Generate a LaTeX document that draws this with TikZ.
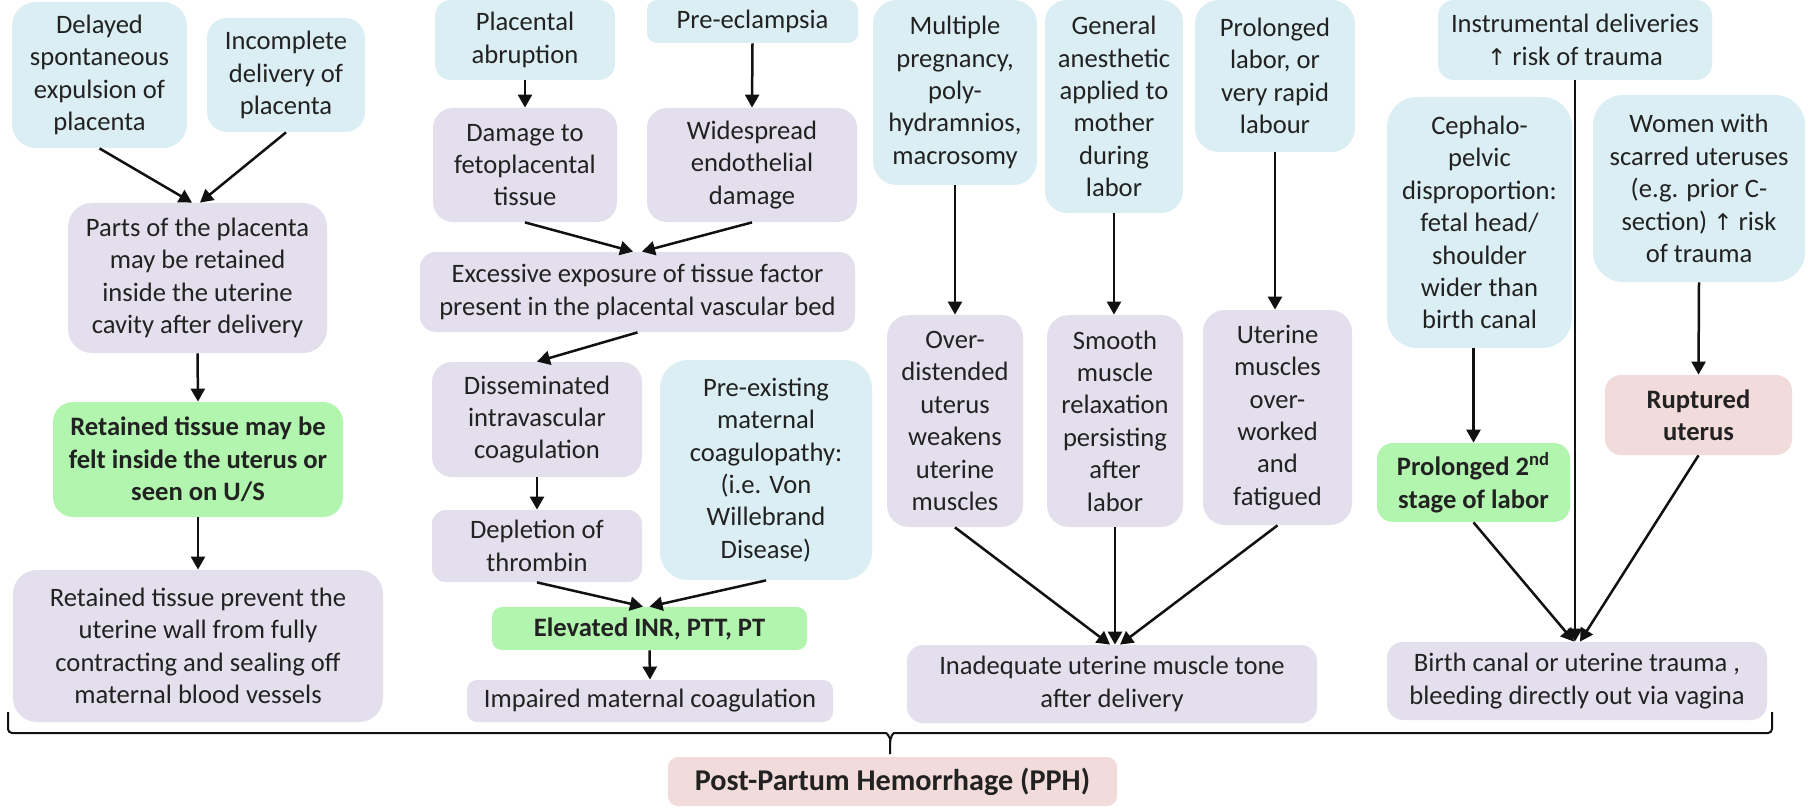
\documentclass[tikz,border=0pt]{standalone}
\usepackage{fontspec}
\setmainfont{Carlito}
\newfontfamily\symfont{DejaVu Sans}
\usetikzlibrary{arrows.meta}

\definecolor{causeblue}{HTML}{DAEEF3}
\definecolor{stepviolet}{HTML}{E4DFEC}
\definecolor{signgreen}{HTML}{B2F5AE}
\definecolor{alertpink}{HTML}{F2DCDB}
\definecolor{inktext}{HTML}{222222}
\definecolor{inkline}{HTML}{111111}

% upward arrow used inside the Calibri-like text
\newcommand{\riskup}{{\symfont\fontsize{11.5}{16.2}\selectfont ↑}}

\tikzset{
  nodebox/.style={align=center, inner sep=2pt, text=inktext,
    font=\fontsize{13.3}{16.2}\selectfont, rounded corners=8pt},
  cause/.style={nodebox, fill=causeblue},
  mech/.style={nodebox, fill=stepviolet},
  sign/.style={nodebox, fill=signgreen,
    font=\fontsize{13.3}{16.2}\selectfont\bfseries},
  alert/.style={nodebox, fill=alertpink,
    font=\fontsize{13.3}{16.2}\selectfont\bfseries},
  sz/.style 2 args={minimum width=#1*0.5pt, minimum height=#2*0.5pt},
  arr/.style={draw=inkline, line width=1.25pt,
    -{Triangle[length=6.5pt,width=7pt]}},
  bracepath/.style={draw=inkline, line width=1pt, rounded corners=2pt},
}

\begin{document}
\begin{tikzpicture}[x=0.5pt,y=-0.5pt]
\useasboundingbox (0,0) rectangle (1811,808);
\fill[white] (0,0) rectangle (1811,808);

% ---------------- retained placenta ----------------
\node[cause, sz={175}{146}, rounded corners=12pt] (A) at (99.5,75)
  {Delayed\\spontaneous\\expulsion of\\placenta};
\node[cause, sz={158}{114}, rounded corners=10pt] (B) at (286,75)
  {Incomplete\\delivery of\\placenta};
\node[mech, sz={259}{150}, rounded corners=12pt] (C) at (197.5,278)
  {Parts of the placenta\\may be retained\\inside the uterine\\cavity after delivery};
\node[sign, sz={290}{115}, rounded corners=10pt] (D) at (198,459.5)
  {Retained tissue may be\\felt inside the uterus or\\seen on U/S};
\node[mech, sz={370}{152}, rounded corners=12pt] (E) at (198,646)
  {Retained tissue prevent the\\uterine wall from fully\\contracting and sealing off\\maternal blood vessels};

\draw[arr] (A.south) -- ([xshift=-2.75pt]C.north);
\draw[arr] (B.south) -- ([xshift=1.25pt]C.north);
\draw[arr] (C.south) -- (D.north);
\draw[arr] (D.south) -- (E.north);

% ---------------- coagulation ----------------
\node[cause, sz={180}{80}, rounded corners=8pt] (F) at (525,40)
  {Placental\\abruption};
\node[cause, sz={211}{43}, rounded corners=5pt] (G) at (752.5,21.5)
  {Pre-eclampsia};
\node[mech, sz={184}{114}, rounded corners=10pt] (H) at (525,165)
  {Damage to\\fetoplacental\\tissue};
\node[mech, sz={210}{114}, rounded corners=10pt] (I) at (752,165)
  {Widespread\\endothelial\\damage};
\node[mech, sz={435}{80}, rounded corners=8pt] (J) at (637.5,292)
  {Excessive exposure of tissue factor\\present in the placental vascular bed};
\node[mech, sz={210}{115}, rounded corners=10pt] (K) at (537,419.5)
  {Disseminated\\intravascular\\coagulation};
\node[mech, sz={210}{72}, rounded corners=7pt] (L) at (537,546)
  {Depletion of\\thrombin};
\node[cause, sz={212}{220}, rounded corners=14pt] (M) at (766,470)
  {Pre-existing\\maternal\\coagulopathy:\\(i.e. Von\\Willebrand\\Disease)};
\node[sign, sz={315}{43}, rounded corners=5pt] (N) at (649.5,628.5)
  {Elevated INR, PTT, PT};
\node[mech, sz={366}{42}, rounded corners=5pt] (O) at (650,701)
  {Impaired maternal coagulation};

\draw[arr] (F.south) -- (H.north);
\draw[arr] (G.south) -- (I.north);
\draw[arr] (H.south) -- ([xshift=-2.25pt]J.north);
\draw[arr] (I.south) -- ([xshift=2.25pt]J.north);
\draw[arr] (J.south) -- (K.north);
\draw[arr] (K.south) -- (L.north);
\draw[arr] (L.south) -- ([xshift=-3.25pt]N.north);
\draw[arr] (M.south) -- (N.north);
\draw[arr] (N.south) -- (O.north);

% ---------------- uterine tone ----------------
\node[cause, sz={164}{185}, rounded corners=12pt] (P) at (955,92.5)
  {Multiple\\pregnancy,\\poly-\\hydramnios,\\macrosomy};
\node[cause, sz={138}{213}, rounded corners=11pt] (Q) at (1114,106.5)
  {General\\anesthetic\\applied to\\mother\\during\\labor};
\node[cause, sz={160}{152}, rounded corners=12pt] (R) at (1275,76)
  {Prolonged\\labor, or\\very rapid\\labour};
\node[mech, sz={136}{212}, rounded corners=11pt] (S) at (955,421)
  {Over-\\distended\\uterus\\weakens\\uterine\\muscles};
\node[mech, sz={136}{212}, rounded corners=11pt] (T) at (1115,421)
  {Smooth\\muscle\\relaxation\\persisting\\after\\labor};
\node[mech, sz={149}{215}, rounded corners=11pt] (U) at (1277.5,417.5)
  {Uterine\\muscles\\over-\\worked\\and\\fatigued};
\node[mech, sz={410}{78}, rounded corners=8pt] (V) at (1112,684)
  {Inadequate uterine muscle tone\\after delivery};

\draw[arr] (P.south) -- (P.south |- S.north);
\draw[arr] (Q.south) -- (Q.south |- T.north);
\draw[arr] (R.south) -- (R.south |- U.north);
\draw[arr] (S.south) -- ([xshift=-1pt]V.north);
\draw[arr] (T.south) -- (T.south |- V.north);
\draw[arr] (U.south) -- ([xshift=4pt]V.north);

% ---------------- trauma ----------------
\node[cause, sz={274}{80}, rounded corners=8pt] (X) at (1575,40)
  {Instrumental deliveries\\\riskup{} risk of trauma};
\node[cause, sz={185}{251}, rounded corners=15pt] (Y) at (1479.5,222.5)
  {Cephalo-\\pelvic\\disproportion:\\fetal head/\\shoulder\\wider than\\birth canal};
\node[cause, sz={212}{187}, rounded corners=15pt] (Z) at (1699,188.5)
  {Women with\\scarred uteruses\\(e.g. prior C-\\section) \riskup{} risk\\of trauma};
\node[alert, sz={187}{80}, rounded corners=8pt] (RU) at (1698.5,415)
  {Ruptured\\uterus};
\node[sign, sz={193}{79}, rounded corners=8pt] (PG) at (1473.5,482.5)
  {Prolonged 2\textsuperscript{nd}\\stage of labor};
\node[mech, sz={380}{78}, rounded corners=8pt] (BT) at (1577,681)
  {Birth canal or uterine trauma ,\\bleeding directly out via vagina};

\draw[arr] (PG.north |- Y.south) -- (PG.north);
\draw[arr] (Z.south) -- (RU.north);
\draw[arr] (X.south) -- (X.south |- BT.north);
\draw[arr] (PG.south) -- ([xshift=-1.5pt]BT.north);
\draw[arr] (RU.south) -- ([xshift=1.5pt]BT.north);

% ---------------- outcome ----------------
\node[alert, sz={449}{49}, rounded corners=5pt,
  font=\fontsize{15.1}{18}\selectfont\bfseries] (W) at (892.5,781.5)
  {Post-Partum Hemorrhage (PPH)};

% brace gathering all four mechanisms
\coordinate (bl) at (8,712);
\coordinate (br) at (1772,712);
\coordinate (tip) at (890,754);
\draw[bracepath] (bl) -- (8,733) -- (882,733)
  to[out=0,in=90] (890,743) -- (tip);
\draw[bracepath] (br) -- (1772,733) -- (898,733)
  to[out=180,in=90] (890,743);
\end{tikzpicture}
\end{document}
